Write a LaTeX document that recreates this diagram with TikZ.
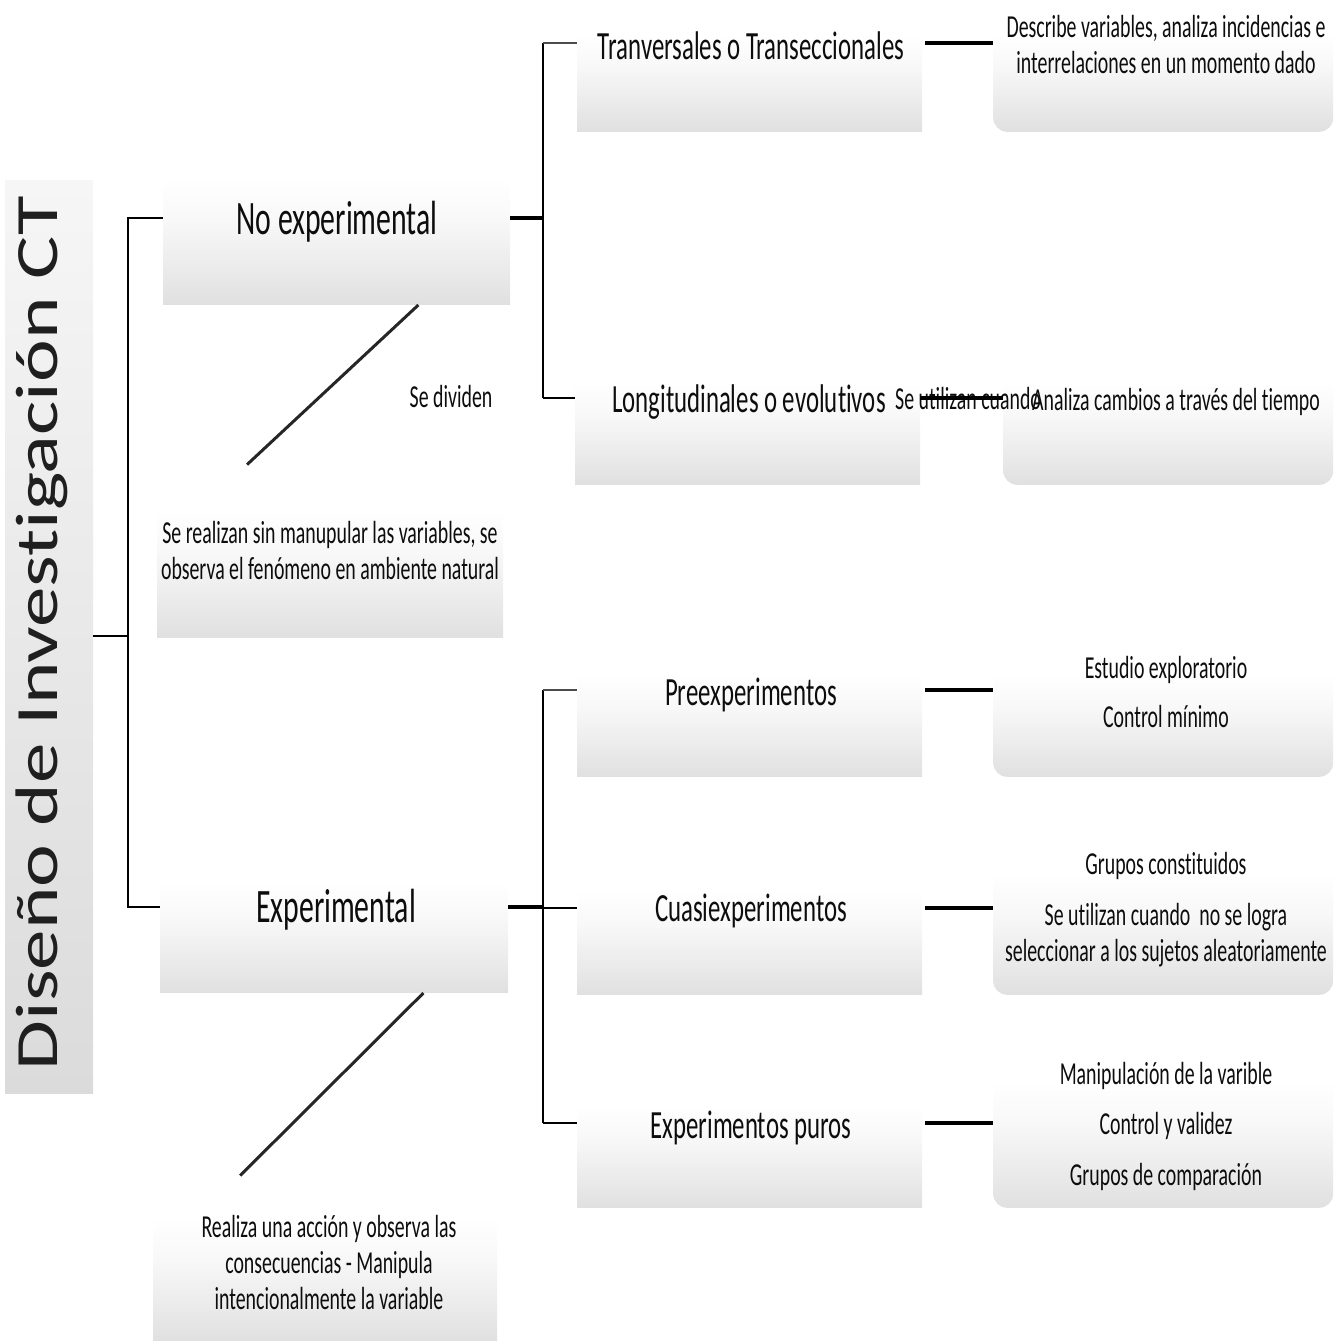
\documentclass[tikz,border=0pt]{standalone}
\usepackage{fontspec}
\setmainfont{Carlito}[FakeStretch=0.62, Ligatures={NoCommon,NoContextual}, Contextuals=NoAlternate]
\newfontfamily\titlefont{Carlito}[FakeStretch=1.35, Ligatures=NoCommon]
\usetikzlibrary{calc}

\definecolor{panellow}{HTML}{E0E0E0}
\definecolor{panelmid}{HTML}{EBEBEB}
\definecolor{panelhigh}{HTML}{F8F8F8}
\definecolor{titlelow}{HTML}{DBDBDB}
\definecolor{titlehigh}{HTML}{F6F6F6}
\definecolor{ink}{HTML}{0D0D0D}

% soft panel: grey at the bottom, fading to white towards the top
\pgfdeclareverticalshading{panelfade}{100bp}{color(0bp)=(panellow); color(25bp)=(panellow); color(36bp)=(panelmid); color(50bp)=(panelhigh); color(62bp)=(white); color(100bp)=(white)}

\tikzset{
  panelbox/.style={draw=none, shading=panelfade, inner sep=0pt, anchor=south west},
  scrollbox/.style={panelbox, rounded corners=14pt},
  big/.style={inner sep=0pt, text=ink, font=\fontsize{48}{52}\selectfont},
  mid/.style={inner sep=0pt, text=ink, font=\fontsize{40}{44}\selectfont},
  small/.style={inner sep=0pt, text=ink, align=center, font=\fontsize{32}{36}\selectfont},
  conn/.style={draw=black, line width=2.6pt},
  stub/.style={draw=black, line width=4.5pt},
  diag/.style={draw=black!85, line width=3pt},
}

\begin{document}
\begin{tikzpicture}[x=1pt,y=-1pt]
\useasboundingbox (0,0) rectangle (1333,1343);

% ---- title band ----
\node[draw=none, inner sep=0pt, anchor=north west, minimum width=88pt, minimum height=913pt,
      top color=titlehigh, bottom color=titlelow] (titlebox) at (5,180) {};
\node[rotate=90, anchor=base, inner sep=0pt, text=black!88,
      font=\titlefont\fontsize{60}{60}\selectfont] (title) at (57,633) {Diseño de Investigación CT};

% ---- panels ----
\node[panelbox, minimum width=347pt, minimum height=170pt] (noexpbox) at (163,305) {};
\node[panelbox, minimum width=348pt, minimum height=150pt] (expbox)   at (160,993) {};
\node[panelbox, minimum width=346pt, minimum height=173pt] (sinbox)   at (157,638) {};
\node[panelbox, minimum width=344pt, minimum height=165pt] (accbox)   at (153,1341) {};

\node[panelbox, minimum width=345pt, minimum height=132pt] (tranbox)  at (577,132) {};
\node[panelbox, minimum width=345pt, minimum height=140pt] (longbox)  at (575,485) {};
\node[panelbox, minimum width=345pt, minimum height=140pt] (prebox)   at (577,777) {};
\node[panelbox, minimum width=345pt, minimum height=140pt] (cuasibox) at (577,995) {};
\node[panelbox, minimum width=345pt, minimum height=140pt] (purobox)  at (577,1208) {};

\node[scrollbox, minimum width=340pt, minimum height=132pt] (descbox) at (993,132) {};
\node[scrollbox, minimum width=330pt, minimum height=140pt] (anabox)  at (1003,485) {};
\node[scrollbox, minimum width=340pt, minimum height=140pt] (estbox)  at (993,777) {};
\node[scrollbox, minimum width=340pt, minimum height=165pt] (grubox)  at (993,995) {};
\node[scrollbox, minimum width=340pt, minimum height=170pt] (manbox)  at (993,1208) {};

% ---- texts (multi-line texts are placed by the baseline of their last line) ----
\node[big, anchor=base] (noexp) at (337,234) {No experimental};
\node[big, anchor=base] (exp)   at (336,922) {Experimental};

\node[mid, anchor=base] (tran)  at (751,60)   {Tranversales o Transeccionales};
\node[mid, anchor=base] (long)  at (749,412)  {Longitudinales o evolutivos};
\node[mid, anchor=base] (pre)   at (751,705)  {Preexperimentos};
\node[mid, anchor=base] (cuasi) at (751,921)  {Cuasiexperimentos};
\node[mid, anchor=base] (puro)  at (751,1138) {Experimentos puros};

\node[small, anchor=base] (dividen) at (451,407) {Se dividen};
\node[small, anchor=base] (sin) at (330,579)
  {Se realizan sin manupular las variables, se\\observa el fenómeno en ambiente natural};
\node[small, anchor=base] (acc) at (329,1309)
  {Realiza una acción y observa las\\consecuencias - Manipula\\intencionalmente la variable};

\node[small, anchor=base] (desc) at (1166,74)
  {Describe variables, analiza incidencias e\\interrelaciones en un momento dado};
\node[small, anchor=base] (ana) at (1176,410) {Analiza cambios a través del tiempo};
\node[small, anchor=base west] (cuando) at (895,409) {Se utilizan cuando};
\node[small, anchor=base] (est) at (1166,727)
  {Estudio exploratorio\\[13pt]Control mínimo};
\node[small, anchor=base] (gru) at (1166,961)
  {Grupos constituidos\\[15pt]Se utilizan cuando\ \ no se logra\\seleccionar a los sujetos aleatoriamente};
\node[small, anchor=base] (man) at (1166,1185)
  {Manipulación de la varible\\[14pt]Control y validez\\[15pt]Grupos de comparación};

% ---- junctions and branch levels ----
\coordinate (rootj) at (128,636);
\coordinate (nej)   at (543,218);
\coordinate (exj)   at (543,907);
\coordinate (lvtran)  at (543,43);
\coordinate (lvlong)  at (543,398);
\coordinate (lvpre)   at (543,690);
\coordinate (lvcuasi) at (543,908);
\coordinate (lvpuro)  at (543,1123);

% ---- connectors ----
\draw[conn] (titlebox.east |- rootj) -- (rootj);
\draw[conn] (rootj) |- (noexpbox.west |- nej);
\draw[conn] (rootj) |- (expbox.west |- exj);

\draw[stub] (noexpbox.east |- nej) -- (nej);
\draw[conn] (lvtran) -- (lvlong);
\draw[conn, draw=black!70] (lvtran) -- (tranbox.west |- lvtran);
\draw[conn] (lvlong) -- (longbox.west |- lvlong);

\draw[stub] (expbox.east |- exj) -- (exj);
\draw[conn] (lvpre) -- (lvpuro);
\draw[conn, draw=black!70] (lvpre) -- (prebox.west |- lvpre);
\draw[conn] (lvcuasi) -- (cuasibox.west |- lvcuasi);
\draw[conn] (lvpuro) -- (purobox.west |- lvpuro);

\draw[stub] ([xshift=3pt]tranbox.east |- lvtran) -- (descbox.west |- lvtran);
\draw[conn, line width=3.4pt] (longbox.east |- lvlong) -- (anabox.west |- lvlong);
\draw[stub] ([xshift=3pt]prebox.east |- lvpre) -- (estbox.west |- lvpre);
\draw[stub] ([xshift=3pt]cuasibox.east |- lvcuasi) -- (grubox.west |- lvcuasi);
\draw[stub] ([xshift=3pt]purobox.east |- lvpuro) -- (manbox.west |- lvpuro);

\draw[diag] ($(noexpbox.south west)!0.735!(noexpbox.south east)$) -- ($(sinbox.north west)!0.26!(sinbox.north east)$);
\draw[diag] ($(expbox.south west)!0.756!(expbox.south east)$) -- ($(accbox.north west)!0.253!(accbox.north east)$);
\end{tikzpicture}
\end{document}
